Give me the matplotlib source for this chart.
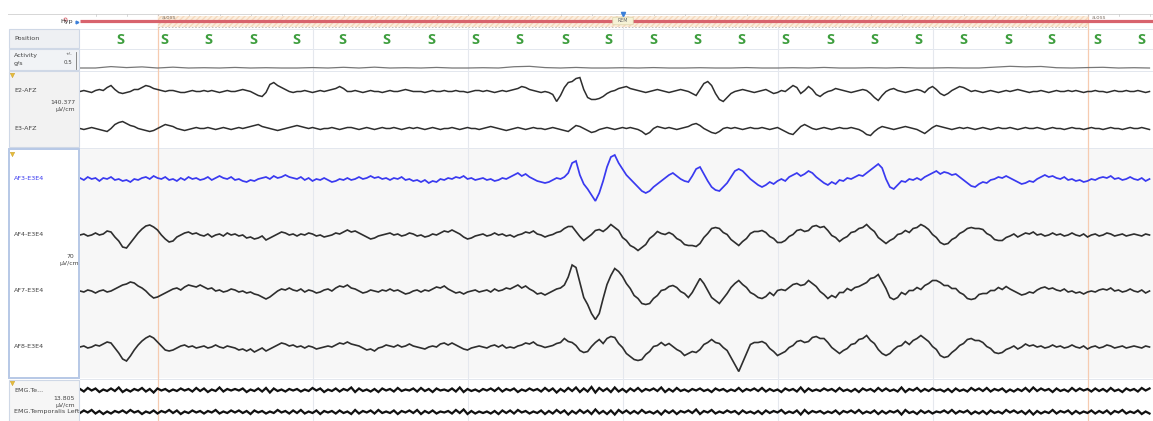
import numpy as np
import matplotlib
matplotlib.use("Agg")
import matplotlib.pyplot as plt
from matplotlib.patches import Rectangle, FancyBboxPatch

# ---- recording page: 30 s epoch inside a ~34.6 s window ----
fs = 8                 # trace samples per second
act_fs = 2             # activity samples per second
epoch_start = 2.516    # s from left edge of the window
epoch_len = 30.0
win_len = 34.613
grid_step = 5.0

stage_names = ["a.oss", "REM", "a.oss"]
stage_times = [epoch_start, epoch_start + epoch_len / 2, epoch_start + epoch_len]

position_times = [1.29, 2.71, 4.13, 5.58, 6.97, 8.45, 9.87, 11.32, 12.74, 14.16,
                  15.65, 17.06, 18.48, 19.90, 21.35, 22.77, 24.19, 25.64, 27.06,
                  28.48, 29.94, 31.35, 32.81, 34.23]
position_labels = ["S"] * len(position_times)

# activity, g/s
activity = [0.0, 0.0, 0.10, 0.03, 0.08, 0.0, 0.06, 0.0, 0.02, 0.0,
            0.04, 0.0, 0.02, 0.0, 0.0, 0.03, 0.0, 0.05, 0.0, 0.06,
            0.0, 0.02, 0.0, 0.04, 0.0, 0.0, 0.02, 0.0, 0.09, 0.12,
            0.03, 0.0, 0.04, 0.0, 0.0, 0.02, 0.0, 0.03, 0.0, 0.0,
            0.02, 0.0, 0.0, 0.03, 0.0, 0.0, 0.02, 0.0, 0.04, 0.0,
            0.0, 0.02, 0.0, 0.03, 0.0, 0.0, 0.02, 0.0, 0.0, 0.06,
            0.12, 0.08, 0.11, 0.02, 0.0, 0.03, 0.05, 0.0, 0.02, 0.0]

# EEG, uV
e2_afz = [0, 4, 0, -4, 4, 8, 4, 16,
          24, 8, -4, -8, -4, 0, 8, 8,
          16, 24, 20, 12, 8, 4, 0, 4,
          4, 0, -4, -4, 0, 4, 0, 0,
          4, 0, 4, 0, -4, 0, 4, 0,
          0, 4, 8, 4, 0, -8, -16, -20,
          -4, 28, 36, 24, 16, 8, 0, -4,
          0, 0, 4, 0, -4, 0, 4, 0,
          4, 8, 12, 20, 12, 0, 0, 4,
          0, -4, 0, 4, 0, 0, -4, 0,
          4, 0, 0, 4, 8, 4, 0, 0,
          0, -4, 0, 4, 0, 0, 4, 0,
          0, 4, 0, 0, -4, 0, 4, 4,
          0, 4, 0, -4, 0, 4, 0, 4,
          8, 12, 20, 16, 8, 4, 0, -4,
          0, -4, -12, -40, -16, 16, 36, 40,
          52, 56, 8, -24, -32, -32, -28, -20,
          -8, 0, 4, 12, 16, 20, 12, 8,
          4, 0, -4, 0, 4, 8, 4, 0,
          -4, 0, 4, 8, 4, 0, -8, -16,
          8, 32, 40, 24, -8, -32, -40, -24,
          -8, 0, 4, 8, 4, 0, -4, 0,
          4, 8, 0, -8, -4, 4, 0, 12,
          24, 16, -8, 4, 20, 8, -12, -20,
          -8, 0, 4, 12, 8, 4, 0, -4,
          0, 4, 8, 4, -8, -24, -36, -16,
          0, 8, 12, 4, 0, -4, 0, 4,
          8, 4, -4, 12, 20, 8, -8, -16,
          -8, 4, 12, 20, 16, 8, 0, 4,
          0, -4, 0, 4, 0, -4, 0, 4,
          0, 4, 8, 4, 0, -4, 0, 0,
          4, 0, -4, 0, 4, 0, 0, 4,
          0, 4, 0, -4, 0, 0, 4, 0,
          0, -4, 0, 4, 0, 0, 4, 0,
          0, 4, 0, -4, 0]

e3_afz = [0, -4, 0, 4, 0, -4, -8, -12,
          0, 16, 24, 28, 20, 12, 8, 0,
          -4, -8, -12, -8, 0, 8, 16, 12,
          8, 0, -4, -8, -4, 0, 4, 0,
          0, 4, 0, -4, 0, 4, 0, -4,
          0, 4, 0, 4, 8, 12, 16, 8,
          4, 0, -4, -8, -4, 0, 4, 8,
          12, 8, 4, 0, 4, 0, -4, 0,
          0, 4, 0, -4, 0, 4, 4, 0,
          -4, 0, 4, 0, -4, 0, 4, 0,
          0, 4, 0, -4, 0, 4, 0, 4,
          0, -4, 0, 4, 0, -4, 0, 0,
          4, 0, -4, 0, 4, 0, 0, -4,
          0, 4, 8, 4, 0, -4, -8, -4,
          0, 4, 0, -4, 0, 4, 0, 0,
          -4, 0, 4, 0, -4, -8, -12, 0,
          12, 8, 0, -8, -16, -12, -4, 0,
          4, 0, -4, 0, 4, 0, 4, 0,
          -4, -12, -24, -16, 0, 8, 4, 0,
          4, 0, -4, 0, 4, 8, 16, 20,
          12, 0, -8, -16, -20, -12, 0, 4,
          0, 4, 0, -4, 0, 4, 0, 0,
          4, 0, -4, 0, 4, -4, -12, -20,
          -24, -8, 8, 16, 8, 0, -4, 0,
          4, 0, -4, 0, 4, 0, 0, 4,
          0, -4, -12, -24, -28, -12, 0, 8,
          4, 0, -4, 0, 4, 8, 4, 0,
          -4, -12, -20, -8, 4, 12, 8, 4,
          0, -4, 0, 4, 0, 4, 0, -4,
          0, 4, 0, -4, 0, 4, 0, 0,
          4, 0, -4, 0, 4, 0, 0, 4,
          0, -4, 0, 4, 0, 0, -4, 0,
          4, 0, 0, -4, 0, 4, 0, 0,
          -4, 0, 4, 0, 0, -4, 0, 4,
          0, 0, 4, 0, -4]

af3_e3e4 = [2, -2, 4, 0, 2, -4, 2, 0,
            4, -2, 0, -4, -2, -6, 0, -2,
            2, 4, 0, 6, 2, 0, 4, -2,
            0, -4, 2, -2, 4, 0, 2, -2,
            0, 4, -2, 2, 6, 2, 0, 4,
            -2, 0, -4, -6, -2, -4, 0, 2,
            4, 0, 6, 2, 4, 8, 4, 2,
            0, 4, -2, 2, -4, 0, -2, 2,
            -2, -6, -4, 0, -2, 2, -2, 0,
            4, 0, 2, 6, 2, 4, 0, 2,
            -2, 2, 0, 4, -2, 0, -4, -2,
            -6, -2, -8, -4, -6, 0, -2, 2,
            0, 4, 2, 6, 0, 2, -2, 0,
            2, -2, 0, -4, -2, 2, 0, 4,
            8, 12, 6, 10, 4, 0, -4, -6,
            -8, -6, -2, 2, 0, 4, 12, 32,
            36, 8, -10, -20, -32, -44, -28, -4,
            24, 44, 48, 32, 20, 8, 0, -8,
            -16, -24, -28, -24, -16, -10, -4, 2,
            8, 12, 6, 0, -4, -6, 6, 20,
            24, 10, -4, -16, -22, -24, -16, -8,
            4, 16, 20, 16, 8, 0, -6, -12,
            -16, -12, -6, -10, -4, 0, -4, 4,
            8, 12, 6, 10, 16, 12, 4, -2,
            -8, -12, -6, -10, -2, -4, 2, 0,
            4, 8, 6, 12, 18, 24, 30, 22,
            0, -16, -20, -12, -4, -6, 0, -2,
            2, -2, 4, 8, 12, 16, 10, 14,
            12, 8, 10, 4, -2, -8, -14, -16,
            -10, -6, -8, -2, 0, 4, 2, 6,
            2, -2, -6, -10, -8, -4, -6, 0,
            4, 8, 4, 6, 2, 0, 4, -2,
            0, -4, -2, -6, -4, 0, -2, 2,
            4, 2, 6, 0, 2, -2, 0, 4,
            0, -2, 2, -4, 0]

af4_e3e4 = [0, 2, -2, 0, 4, 0, 2, 8,
            6, -4, -12, -24, -26, -16, -6, 4,
            12, 18, 20, 16, 10, 0, -8, -14,
            -12, -4, 0, 4, 6, 2, 4, 0,
            -2, 2, -4, 0, 2, -2, 4, 0,
            2, -2, 0, -6, -4, -8, -6, -2,
            -10, -6, -2, 2, 6, 4, 0, 2,
            -2, 2, 0, 4, 2, -2, 0, -4,
            -2, 0, 4, 2, 6, 10, 6, 8,
            4, 0, -4, -8, -6, -2, 0, 2,
            4, 0, 2, -2, 0, 4, 2, -2,
            0, -4, -2, 2, 0, 4, 8, 6,
            10, 6, 2, -4, -8, -6, -2, 0,
            2, -2, 0, 4, 0, 2, -2, 0,
            -4, 0, 2, 6, 4, 8, 2, 0,
            -4, -1, 1, 5, 7, 13, 17, 17,
            7, -3, -11, -5, 1, 9, 11, 7,
            13, 21, 15, 9, -5, -11, -21, -25,
            -31, -25, -19, -7, -1, 7, 3, 1,
            5, 1, -7, -11, -19, -21, -21, -23,
            -17, -5, 3, 13, 15, 13, 5, 1,
            -9, -15, -21, -13, -7, 3, 7, 7,
            9, 5, -3, -7, -15, -15, -11, -3,
            1, 9, 11, 7, 9, 17, 19, 15,
            17, 9, -1, -5, -13, -7, -3, 5,
            7, 13, 15, 21, 13, 7, -5, -11,
            -17, -11, -7, 1, 3, 9, 5, 13,
            15, 21, 17, 11, 1, -5, -15, -19,
            -17, -9, -5, 3, 7, 13, 15, 13,
            13, 11, 3, -1, -9, -11, -11, -5,
            -2, 2, -4, 0, 4, 2, 6, 0,
            2, -2, 0, 4, 0, 2, -2, 0,
            4, 0, -2, 2, -4, 0, 2, -2,
            0, 4, 2, -2, 0, 2, -2, 0,
            2, 0, -2, 2, 0]

af7_e3e4 = [0, -2, 2, 0, -4, 0, 2, -2,
            0, 4, 8, 12, 14, 18, 16, 10,
            6, 0, -8, -14, -12, -8, -4, 0,
            4, 6, 2, 8, 12, 10, 8, 12,
            8, 4, 6, 0, 2, -2, 0, 4,
            2, -2, 0, -4, -2, -6, -8, -12,
            -16, -12, -6, 0, 4, 2, 6, 2,
            0, 4, -2, 2, 0, -4, -2, 2,
            4, 0, 6, 10, 8, 12, 6, 4,
            0, -4, -2, 2, 0, -2, 2, 0,
            4, 0, 2, -2, -6, -4, 0, 2,
            -2, 2, 0, 4, 8, 6, 10, 4,
            0, -4, -2, -6, -2, 0, 2, -2,
            0, 2, -2, 4, 0, 2, 6, 4,
            8, 12, 6, 10, 4, 0, -6, -4,
            -8, -4, 0, 4, 6, 12, 28, 52,
            47, 17, -13, -27, -45, -57, -45, -15,
            13, 31, 45, 39, 29, 15, 5, -9,
            -15, -25, -27, -25, -15, -9, 1, 3,
            9, 11, 7, -1, -5, -13, -3, 11,
            25, 15, 1, -13, -19, -25, -15, -5,
            7, 15, 21, 13, 7, -3, -7, -13,
            -15, -11, -3, -9, 1, 3, 1, 7,
            13, 15, 11, 13, 21, 15, 9, -1,
            -7, -15, -9, -13, -3, -3, 5, 1,
            7, 9, 13, 17, 25, 27, 33, 19,
            5, -13, -17, -13, -3, -7, 1, 1,
            7, 3, 11, 15, 21, 21, 17, 11,
            11, 5, 5, -3, -7, -15, -17, -15,
            -7, -5, -5, 1, 1, 7, 3, 9,
            4, 0, -4, -8, -6, -2, -4, 2,
            6, 8, 4, 6, 2, 0, 4, -2,
            0, -4, -2, -6, -2, 0, -2, 2,
            4, 2, 6, 0, 2, -2, 0, 4,
            0, -2, 2, -4, 0]

af8_e3e4 = [0, 2, -2, 0, 4, 2, 6, 10,
            8, -2, -12, -24, -28, -18, -6, 4,
            12, 18, 22, 18, 10, 2, -6, -8,
            -6, -2, 2, 4, 0, 2, -2, 0,
            2, -2, 0, 4, 0, -2, 2, 0,
            -2, -6, -4, -8, -4, -10, -6, -2,
            -8, -4, 0, 4, 8, 6, 2, 4,
            0, 2, -2, 2, 0, -4, -2, 0,
            2, 0, 4, 8, 6, 10, 6, 4,
            2, -2, -6, -4, -8, -2, 0, 4,
            2, 0, 4, 0, 2, 6, 2, 0,
            -2, -4, 0, 2, 0, 6, 8, 4,
            8, 4, 0, -4, -6, -2, 0, 2,
            0, -2, 2, 4, 0, 4, -2, 0,
            -2, 2, 4, 8, 6, 10, 4, 2,
            -1, 1, 3, 7, 9, 17, 11, 9,
            3, -7, -11, -9, 1, 9, 15, 7,
            17, 21, 19, 7, -1, -13, -19, -25,
            -27, -25, -15, -9, 1, 3, 9, 3,
            7, 1, -5, -9, -17, -13, -9, -11,
            -5, 5, 9, 15, 9, 7, -1, -7,
            -21, -35, -49, -31, -13, 5, 9, 9,
            11, 7, -3, -9, -17, -13, -9, -1,
            3, 11, 13, 9, 11, 19, 21, 17,
            17, 9, -1, -7, -13, -7, -3, 5,
            7, 15, 17, 23, 13, 7, -5, -13,
            -17, -13, -5, 1, 3, 11, 5, 13,
            17, 23, 17, 11, 1, -5, -17, -21,
            -19, -11, -5, 3, 7, 15, 17, 13,
            13, 9, 1, -3, -11, -13, -11, -5,
            -2, 2, -4, 0, 6, 2, 4, 0,
            2, -2, 0, 4, 0, 2, -2, 0,
            4, 0, -2, 2, -4, 0, 2, -2,
            0, 4, 2, -2, 0, 2, -2, 0,
            2, 0, -2, 2, 0]

# EMG, uV
emg_te = [0.4, -0.6, 0.8, -0.2, 0.6, -0.8, 0.2, -0.4,
          0.6, -0.4, 1.0, -0.8, 0.2, -0.6, 0.4, -0.2,
          0.8, -0.6, 0.4, -1.0, 0.6, -0.2, 0.4, -0.6,
          0.2, -0.4, 0.6, -0.2, 0.4, -0.6, 0.8, -0.4,
          0.6, -0.8, 0.2, -0.4, 1.0, -0.6, 0.4, -0.2,
          0.4, -0.2, 0.6, -0.8, 0.2, -0.4, 0.6, -0.6,
          0.8, -1.0, 0.6, -0.4, 0.2, -0.6, 0.4, -0.2,
          0.4, -0.6, 0.2, -0.4, 0.8, -0.2, 0.6, -0.8,
          0.2, -0.4, 0.6, -0.6, 0.4, -0.2, 1.0, -0.8,
          0.6, -0.4, 0.2, -0.6, 0.4, -0.8, 0.6, -0.2,
          0.4, -0.6, 0.8, -0.4, 0.2, -0.2, 0.6, -0.6,
          0.8, -0.4, 0.4, -0.8, 0.6, -0.2, 0.2, -0.4,
          0.6, -0.6, 1.0, -0.8, 0.4, -0.4, 0.2, -0.6,
          0.4, -0.2, 0.6, -0.4, 0.8, -0.6, 0.4, -0.2,
          0.6, -0.8, 0.2, -0.4, 0.6, -0.2, 0.4, -0.6,
          0.8, -0.4, 0.6, -1.0, 0.4, -0.6, 0.8, -0.4,
          1.0, -0.8, 0.6, -0.6, 1.2, -1.0, 0.8, -0.4,
          0.6, -0.8, 1.0, -0.6, 0.4, -0.8, 0.6, -0.4,
          0.8, -0.6, 0.4, -0.2, 0.6, -0.4, 1.0, -0.8,
          0.4, -0.6, 0.8, -0.4, 0.2, -0.6, 0.4, -0.2,
          0.6, -0.4, 0.2, -0.8, 0.6, -0.2, 0.4, -0.6,
          0.2, -0.4, 0.8, -0.6, 0.4, -0.2, 0.6, -0.4,
          0.8, -0.6, 0.4, -0.4, 0.2, -0.8, 0.6, -0.2,
          0.4, -0.6, 1.0, -0.8, 0.6, -0.4, 0.2, -0.4,
          0.6, -0.2, 0.4, -0.6, 0.8, -0.4, 0.2, -0.6,
          0.4, -0.8, 0.6, -0.2, 0.4, -0.6, 0.8, -0.4,
          0.6, -0.4, 0.2, -0.6, 1.0, -0.8, 0.4, -0.2,
          0.8, -0.6, 0.4, -0.4, 0.6, -0.2, 0.2, -0.6,
          0.4, -0.8, 0.6, -0.4, 0.2, -0.6, 0.8, -0.2,
          0.6, -0.4, 0.8, -0.6, 0.4, -0.2, 0.6, -0.8,
          0.2, -0.6, 0.4, -0.4, 0.8, -0.6, 1.0, -0.4,
          0.6, -0.2, 0.4, -0.8, 0.6, -0.4, 0.2, -0.6,
          0.8, -0.4, 0.6, -0.2, 0.4, -0.6, 0.6, -0.4,
          0.4, -0.6, 0.8, -0.4, 0.2, -0.8, 0.6, -0.2,
          0.4, -0.6, 0.8, -0.2, 0.6]

emg_temporalis_left = [-0.4, 0.6, -0.2, 0.8, -0.6, 0.4, -0.8, 0.2,
                       -0.6, 0.4, -0.2, 0.6, -0.4, 0.8, -0.2, 0.4,
                       -0.8, 0.2, -0.4, 0.6, -0.6, 0.4, -0.2, 0.8,
                       -0.4, 0.6, -0.8, 0.2, -0.4, 0.6, -0.2, 0.4,
                       -0.6, 0.4, -0.2, 0.8, -0.6, 0.2, -0.4, 0.6,
                       -0.2, 0.6, -0.4, 0.4, -0.8, 0.6, -0.2, 0.4,
                       -0.6, 0.2, -0.4, 0.8, -0.2, 0.4, -0.6, 0.6,
                       -0.4, 0.8, -0.6, 0.2, -0.4, 0.6, -0.8, 0.4,
                       -0.2, 0.4, -0.6, 0.6, -0.4, 0.2, -0.8, 0.8,
                       -0.6, 0.4, -0.2, 0.6, -0.6, 0.8, -0.4, 0.2,
                       -0.4, 0.6, -0.8, 0.4, -0.2, 0.6, -0.4, 0.8,
                       -0.8, 0.4, -0.4, 0.6, -0.6, 0.2, -0.2, 0.4,
                       -0.6, 0.8, -0.4, 1.0, -0.8, 0.4, -0.6, 0.2,
                       -0.4, 0.2, -0.6, 0.4, -0.8, 0.6, -0.4, 0.6,
                       -0.6, 0.8, -0.2, 0.4, -0.6, 0.2, -0.4, 0.6,
                       -0.8, 0.4, -0.6, 0.8, -0.4, 0.6, -1.0, 0.4,
                       -0.6, 0.8, -0.4, 0.6, -0.8, 1.0, -0.6, 0.4,
                       -0.8, 0.6, -1.0, 0.8, -0.4, 0.6, -0.6, 0.4,
                       -0.6, 0.8, -0.4, 0.2, -0.6, 0.4, -1.0, 0.6,
                       -0.4, 0.6, -0.8, 0.4, -0.2, 0.6, -0.4, 1.0,
                       -0.8, 0.4, -0.2, 0.8, -0.6, 0.2, -0.4, 0.6,
                       -0.2, 0.4, -0.8, 0.6, -0.4, 0.2, -0.6, 0.4,
                       -0.8, 0.6, -0.4, 0.4, -0.2, 0.8, -0.6, 0.2,
                       -0.4, 0.6, -1.0, 0.8, -0.6, 0.4, -0.2, 0.4,
                       -0.6, 0.2, -0.4, 0.6, -0.8, 0.4, -0.2, 0.6,
                       -0.4, 0.8, -0.6, 0.2, -0.4, 0.6, -0.8, 0.4,
                       -0.6, 0.4, -0.2, 0.6, -1.0, 0.8, -0.4, 0.2,
                       -0.8, 0.6, -0.4, 0.4, -0.6, 0.2, -0.2, 0.6,
                       -0.4, 0.8, -0.6, 0.4, -0.2, 0.6, -0.8, 0.2,
                       -0.6, 0.4, -0.8, 0.6, -0.4, 0.2, -0.6, 0.8,
                       -0.2, 0.6, -0.4, 0.4, -0.8, 0.6, -1.0, 0.4,
                       -0.6, 0.2, -0.4, 0.8, -0.6, 0.4, -0.2, 0.6,
                       -0.8, 0.4, -0.6, 0.2, -0.4, 0.6, -0.6, 0.4,
                       -0.4, 0.6, -0.8, 0.4, -0.2, 0.8, -0.6, 0.2,
                       -0.4, 0.6, -0.8, 0.2, -0.6]

# ---- page layout, screen pixels ----
W, H = 1153, 421
LEFT = 80            # left edge of the trace area
PX_PER_S = 31.0
PX_PER_CM = 35.0

TXT = "#444444"
TRACE = "#2e2e2e"
BLUE = "#3a3af0"
PANEL_EDGE = "#cfd8e6"

fig = plt.figure(figsize=(W / 100, H / 100), dpi=100)
fig.patch.set_facecolor("white")

bg = fig.add_axes([0, 0, 1, 1])
bg.set_xlim(0, W)
bg.set_ylim(H, 0)
bg.axis("off")

# trace area backgrounds
bg.add_patch(Rectangle((LEFT, 148), W - LEFT, 230, facecolor="#f7f7f7", edgecolor="none"))

# left side panels
panels = [
    (29, 48, "#eef0f3", PANEL_EDGE, 0.8),
    (49, 70, "#f1f3f6", PANEL_EDGE, 0.8),
    (71, 147, "#f2f2f2", PANEL_EDGE, 0.8),
    (149, 378, "white", "#b7c8e6", 1.4),
    (380, 421, "#f6f6f6", PANEL_EDGE, 0.8),
]
for top, bottom, fc, ec, lw in panels:
    bg.add_patch(Rectangle((8.5, top), 70, bottom - top, facecolor=fc, edgecolor=ec, linewidth=lw))

for yy in [28.5, 48.5, 70.5, 147.5, 378.5]:
    bg.plot([LEFT, W], [yy, yy], color="#e3e7ee", lw=0.7)
bg.plot([8, W], [14, 14], color="#d6d6d6", lw=0.7)

# filter markers
for yy in [75, 154, 383]:
    bg.plot(12, yy, marker="v", ms=3.2, color="#e6bd3a", mec="#c99a20", mew=0.3)

label_kw = dict(fontsize=4.6, color=TXT, va="center", ha="left")
bg.text(14, 39, "Position", **label_kw)
bg.text(14, 56, "Activity", **label_kw)
bg.text(14, 63, "g/s", **label_kw)
bg.text(72, 62, "0.5", fontsize=4, color=TXT, va="center", ha="right")
bg.text(72, 54, "+/-", fontsize=3.2, color=TXT, va="center", ha="right")
bg.plot([75.5, 75.5], [52, 69], color="#777777", lw=0.6)

bg.text(14, 90, "E2-AFZ", **label_kw)
bg.text(14, 128, "E3-AFZ", **label_kw)
bg.text(75, 103, "140.377", fontsize=4.4, color=TXT, va="center", ha="right")
bg.text(75, 110, "µV/cm", fontsize=4.4, color=TXT, va="center", ha="right")

bg.text(14, 178, "AF3-E3E4", fontsize=4.6, color=BLUE, va="center", ha="left")
bg.text(14, 235, "AF4-E3E4", **label_kw)
bg.text(14, 291, "AF7-E3E4", **label_kw)
bg.text(14, 347, "AF8-E3E4", **label_kw)
bg.text(70, 257, "70", fontsize=4.4, color=TXT, va="center", ha="center")
bg.text(69, 264, "µV/cm", fontsize=4.4, color=TXT, va="center", ha="center")

bg.text(14, 390, "EMG.Te...", **label_kw)
bg.text(75, 398, "13.805", fontsize=4.4, color=TXT, va="center", ha="right")
bg.text(75, 405, "µV/cm", fontsize=4.4, color=TXT, va="center", ha="right")
bg.text(14, 412, "EMG.Temporalis Left", **label_kw)

# hypnogram row label
bg.text(73, 21.5, "Hyp", fontsize=4.6, color="#333333", va="center", ha="right")
bg.plot(65, 18.5, marker="o", ms=2.2, mfc="none", mec="#d8636d", mew=0.6)
bg.plot(77, 21.5, marker=">", ms=2, color="#3b7fd9")

# ---- traces, time on x ----
tr = fig.add_axes([LEFT / W, 0, (W - LEFT) / W, 1])
tr.set_xlim(0, (W - LEFT) / PX_PER_S)
tr.set_ylim(H, 0)
tr.axis("off")
tr.patch.set_alpha(0)

# grid and epoch limits
for k in range(1, 6):
    tr.plot([epoch_start + k * grid_step] * 2, [28, H], color="#e5e8ee", lw=0.8, zorder=1)
for t0 in [epoch_start, epoch_start + epoch_len]:
    tr.plot([t0, t0], [15, H], color="#f6cbb0", lw=0.9, zorder=1)
for tk in np.arange(epoch_start - 2, win_len, 1.0):
    tr.plot([tk, tk], [14, 16], color="#c8c8c8", lw=0.5)

# hypnogram band
tr.add_patch(Rectangle((epoch_start, 15.5), epoch_len, 11.5, facecolor="#fcefdf",
                       edgecolor="#f4d8bc", hatch="//////", linewidth=0, zorder=2))
tr.plot([epoch_start, epoch_start + epoch_len], [27.3, 27.3], color="#b8b8b8",
        lw=0.6, ls=(0, (2, 2)), zorder=3)
tr.plot([0, win_len], [21, 21], color="#d8636d", lw=2.3, solid_capstyle="butt", zorder=3)
for name, ts in zip(stage_names, stage_times):
    if name == "REM":
        tr.add_patch(FancyBboxPatch((ts - 0.33, 17.2), 0.66, 7.6,
                                    boxstyle="round,pad=0,rounding_size=0.1",
                                    facecolor="#f6f2d6", edgecolor="#d9d2a8",
                                    linewidth=0.5, zorder=4, mutation_aspect=3))
        tr.text(ts, 21, name, fontsize=3.4, color="#666666", ha="center", va="center", zorder=5)
        tr.plot(ts, 13.5, marker="v", ms=3, color="#3b7fd9", zorder=5)
    else:
        tr.text(ts + 0.12, 17.5, name, fontsize=4, color="#8a7c70", ha="left", va="center", zorder=5)

# position
for ts, lab in zip(position_times, position_labels):
    tr.text(ts, 40, lab, fontsize=10.5, color="#3e9e3e", ha="center", va="center",
            fontweight="bold", family="Open Sans")

# activity: 0 g/s at row 68, 14 px per g/s
act = np.asarray(activity)
tr.plot(np.arange(len(act)) / act_fs, 68 - act * 14, color="#777777", lw=0.9, zorder=3)

channels = [
    (e2_afz, 91.5, 140.377, TRACE, 1.1),
    (e3_afz, 128.5, 140.377, TRACE, 1.1),
    (af3_e3e4, 179, 70.0, BLUE, 1.25),
    (af4_e3e4, 235, 70.0, TRACE, 1.2),
    (af7_e3e4, 291, 70.0, TRACE, 1.2),
    (af8_e3e4, 347, 70.0, TRACE, 1.2),
    (emg_te, 390, 13.805, "#111111", 1.6),
    (emg_temporalis_left, 412, 13.805, "#111111", 1.6),
]
for data, base, sens, color, lw in channels:
    v = np.asarray(data, dtype=float)
    t = np.arange(len(v)) / fs
    tr.plot(t, base - v * PX_PER_CM / sens, color=color, lw=lw, zorder=4,
            solid_joinstyle="miter")

fig.savefig("out.png", dpi=100)
